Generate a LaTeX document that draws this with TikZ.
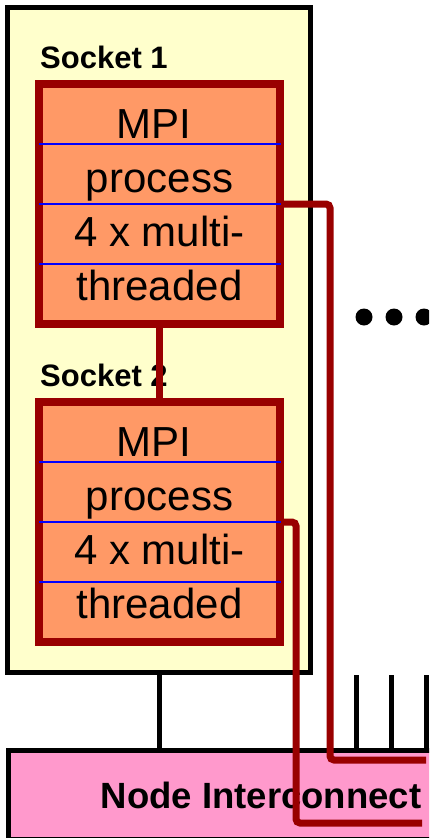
\documentclass[tikz,border=0pt]{standalone}
\usepackage{fontspec}
\setmainfont{Liberation Sans}
\usetikzlibrary{positioning}

\definecolor{nodeyellow}{HTML}{FFFFCC}
\definecolor{procorange}{HTML}{FF9966}
\definecolor{linkred}{HTML}{990000}
\definecolor{netpink}{HTML}{FF99CC}

\tikzset{
  nodebox/.style={draw=black, line width=5pt, fill=nodeyellow,
    minimum width=303pt, minimum height=665pt},
  socket/.style={draw=linkred, line width=8pt, fill=procorange,
    minimum width=241pt, minimum height=240pt},
  proctext/.style={align=center, inner sep=0pt,
    font=\fontsize{42}{54}\selectfont},
  socklabel/.style={inner sep=0pt, font=\fontsize{31}{36}\selectfont\bfseries},
  netbox/.style={draw=black, line width=5pt, fill=netpink,
    minimum width=505pt, minimum height=89pt,
    font=\fontsize{36.5}{40}\selectfont\bfseries},
  sep/.style={blue, line width=2.8pt},
  link/.style={linkred, line width=7pt, rounded corners=4pt},
  wire/.style={black, line width=5pt},
}

\begin{document}
\begin{tikzpicture}[x=1pt, y=-1pt]
\clip (0,0) rectangle (429,838);

% SMP node
\node[nodebox] (node) at (159,340) {};

% Two sockets, one MPI process on each
\foreach \n/\dy in {1/0, 2/318} {
  \node[socket] (s\n) at (159.5,204+\dy) {};
  \node[socklabel, above right=11pt and 5pt of s\n.north west] (l\n) {Socket \n};
  \foreach \y in {144,204,264}
    \draw[sep] (39,\y+\dy) -- (281,\y+\dy);
  \node[proctext] (p\n) at (159.5,205+\dy) {MPI\kern.28em\\process\\4 x multi-\\threaded};
}

% Interconnect
\node[netbox] (ic) at (261,795) {Node Interconnect};
\draw[wire] (node.south) -- (node.south |- ic.north);
\foreach \x in {356,391,426}
  \draw[wire] (\x,675) -- (\x,675 |- ic.north);

% more nodes
\foreach \x in {364,394,424}
  \fill (\x,317) circle (8.5pt);

% MPI links
\coordinate (out1) at (426,760);
\coordinate (out2) at (422,823);
\draw[link] (s1.south) -- (s2.north);
\draw[link] (s1.east) -- ++(46,0) |- (out1);
\draw[link] (s2.east) -- ++(12,0) |- (out2);
\end{tikzpicture}
\end{document}
